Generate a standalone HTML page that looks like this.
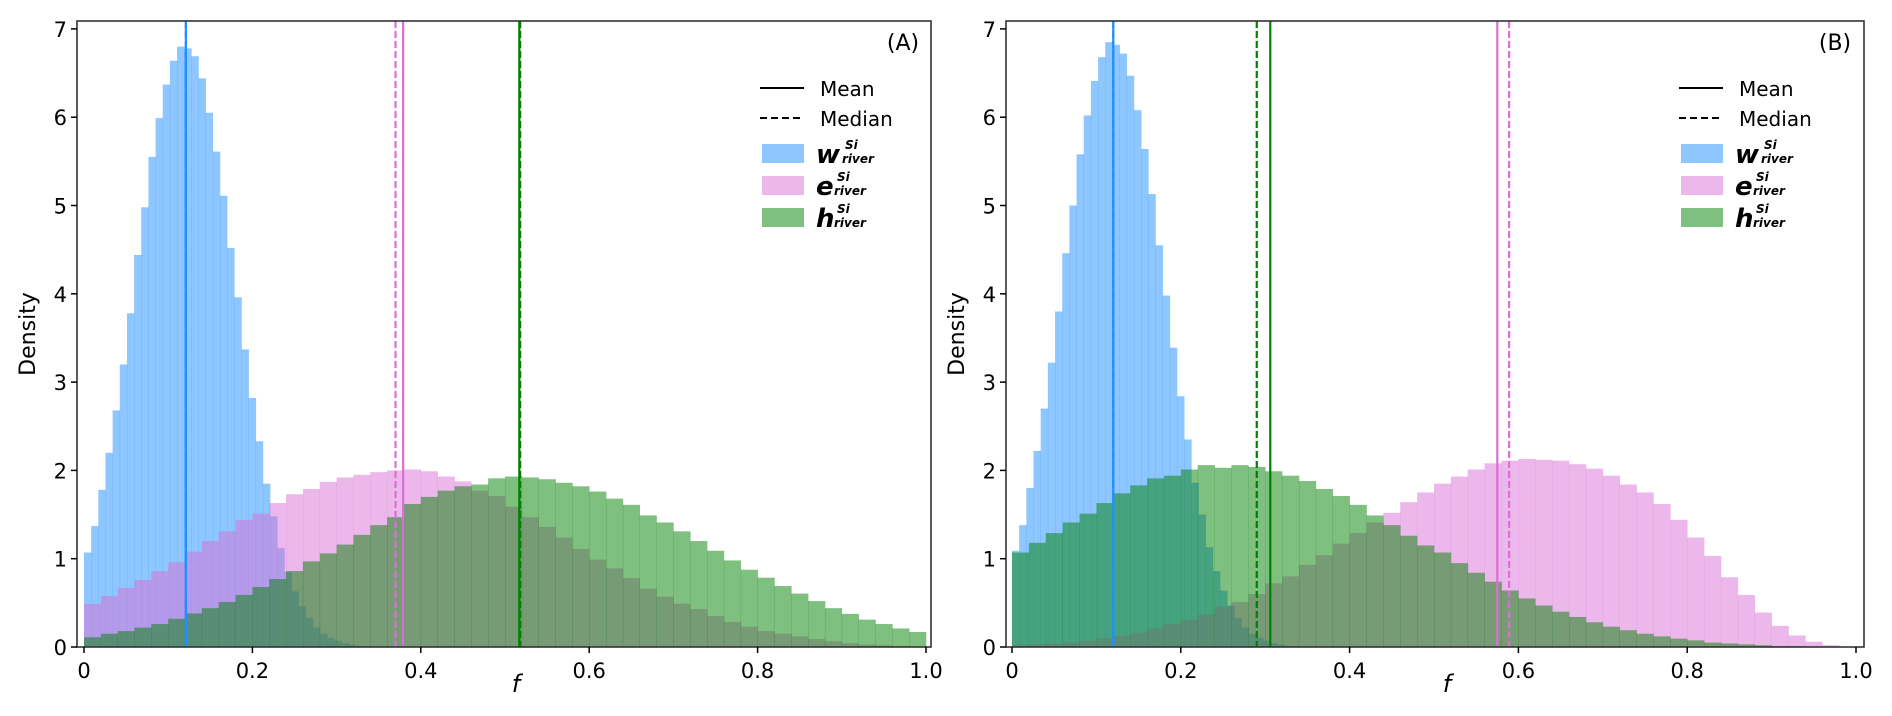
<!DOCTYPE html>
<html><head><meta charset="utf-8"><style>
html,body{margin:0;padding:0;background:#fff;}
svg{display:block;font-family:"DejaVu Sans","Liberation Sans",sans-serif;}
</style></head><body>
<svg id="fig" width="1892" height="716" viewBox="0 0 1892 716"></svg>
<script>
const xTicks = [0, 0.2, 0.4, 0.6, 0.8, 1.0];
const xTickLabels = ["0", "0.2", "0.4", "0.6", "0.8", "1.0"];
const yTicks = [0, 1, 2, 3, 4, 5, 6, 7];
const binWide = 0.02;
const binBlue = 0.0085;
const blueA = [1.07,1.37,1.78,2.20,2.68,3.20,3.78,4.44,4.98,5.55,5.99,6.37,6.64,6.80,6.78,6.69,6.44,6.05,5.61,5.11,4.52,3.96,3.37,2.82,2.33,1.85,1.48,1.12,0.85,0.63,0.46,0.33,0.22,0.15,0.105,0.07,0.045,0.026,0.015,0.01,0.005];
const pinkA = [0.49,0.58,0.67,0.76,0.86,0.96,1.08,1.20,1.31,1.44,1.51,1.63,1.73,1.79,1.87,1.92,1.95,1.98,2.00,2.01,1.99,1.93,1.875,1.77,1.71,1.59,1.47,1.36,1.24,1.11,0.99,0.89,0.78,0.66,0.57,0.49,0.43,0.35,0.285,0.23,0.18,0.15,0.12,0.09,0.066,0.043,0.027,0.02,0.01,0.005];
const greenA = [0.11,0.15,0.18,0.22,0.26,0.32,0.38,0.44,0.51,0.59,0.68,0.77,0.86,0.97,1.06,1.16,1.27,1.38,1.47,1.62,1.70,1.77,1.82,1.84,1.91,1.93,1.92,1.90,1.86,1.82,1.76,1.68,1.61,1.49,1.41,1.31,1.20,1.09,0.98,0.875,0.785,0.69,0.605,0.52,0.44,0.375,0.31,0.26,0.21,0.17];
const blueB = [1.09,1.38,1.80,2.22,2.70,3.22,3.80,4.46,5.00,5.58,6.02,6.41,6.68,6.85,6.82,6.72,6.47,6.08,5.64,5.13,4.55,3.98,3.39,2.84,2.35,1.86,1.50,1.13,0.86,0.64,0.47,0.33,0.22,0.15,0.105,0.07,0.045,0.026,0.015,0.01,0.005];
const pinkB = [0.02,0.03,0.04,0.05,0.07,0.10,0.125,0.16,0.21,0.26,0.31,0.37,0.46,0.51,0.60,0.72,0.80,0.93,1.04,1.17,1.29,1.41,1.52,1.64,1.75,1.85,1.93,2.01,2.08,2.11,2.13,2.12,2.11,2.07,2.02,1.94,1.84,1.75,1.62,1.44,1.24,1.03,0.79,0.59,0.39,0.24,0.13,0.06,0.02,0.005];
const greenB = [1.07,1.18,1.29,1.41,1.51,1.63,1.74,1.83,1.91,1.94,2.01,2.06,2.03,2.06,2.04,1.99,1.94,1.88,1.79,1.71,1.61,1.49,1.38,1.26,1.15,1.07,0.95,0.84,0.74,0.64,0.55,0.47,0.40,0.34,0.28,0.23,0.19,0.15,0.12,0.095,0.075,0.05,0.04,0.03,0.02,0.01,0.01,0.005,0,0];
const statsA = [0.121, 0.121, 0.379, 0.370, 0.517, 0.518];
const statsB = [0.120, 0.120, 0.575, 0.589, 0.306, 0.290];

const NS = "http://www.w3.org/2000/svg";
const fig = document.getElementById('fig');
function mk(tag, attrs, parent){ const e=document.createElementNS(NS,tag); for(const k in attrs) e.setAttribute(k,attrs[k]); (parent||fig).appendChild(e); return e; }

const panels = [
  {id:'a', label:'(A)', left:77, right:931, top:21, bottom:647, x0:84, x1:926, blue:blueA, pink:pinkA, green:greenA, stats:statsA, legX:760, labelX:903},
  {id:'b', label:'(B)', left:1006, right:1864, top:21, bottom:647, x0:1012, x1:1856, blue:blueB, pink:pinkB, green:greenB, stats:statsB, legX:1679, labelX:1835}
];
const yUnit = 88.3;
const colBlue='#1E90FF', colPink='#DA70D6', colGreen='#008000';

panels.forEach(p=>{
  const g = mk('g',{});
  
  
  const xs = v => p.x0 + v*(p.x1-p.x0);
  const ys = v => p.bottom - v*yUnit;
  function hist(arr, w, color, name){
    const hg = mk('g',{}, g);
    
    
    arr.forEach((v,i)=>{
      if(v<=0) return;
      const xa=xs(i*w), xb=xs((i+1)*w);
      const r = mk('rect',{x:xa,y:ys(v),width:xb-xa+0.3,height:p.bottom-ys(v),fill:color,'fill-opacity':0.5}, hg);
      
      
    });
  }
  hist(p.blue, binBlue, colBlue, 'hist-w-'+p.id);
  hist(p.pink, binWide, colPink, 'hist-e-'+p.id);
  hist(p.green, binWide, colGreen, 'hist-h-'+p.id);
  const lineCols=[colBlue,colBlue,colPink,colPink,colGreen,colGreen];
  p.stats.forEach((v,i)=>{
    const l = mk('line',{x1:xs(v),x2:xs(v),y1:p.top,y2:p.bottom,stroke:lineCols[i],'stroke-width':2.2}, g);
    if(i%2===1) l.setAttribute('stroke-dasharray','7,3');
    
    
  });
  const fr = mk('rect',{x:p.left,y:p.top,width:p.right-p.left,height:p.bottom-p.top,fill:'none',stroke:'#333','stroke-width':1.6}, g);
  
  
  xTicks.forEach((v,i)=>{
    mk('line',{x1:xs(v),x2:xs(v),y1:p.bottom,y2:p.bottom+6,stroke:'#000','stroke-width':1.5}, g);
    const t = mk('text',{x:xs(v),y:p.bottom+31,'text-anchor':'middle','font-size':21,fill:'#000'}, g);
    t.textContent = xTickLabels[i];
    
    
  });
  yTicks.forEach(v=>{
    mk('line',{x1:p.left-6,x2:p.left,y1:ys(v),y2:ys(v),stroke:'#000','stroke-width':1.5}, g);
    const t = mk('text',{x:p.left-10,y:ys(v)+8,'text-anchor':'end','font-size':21,fill:'#000'}, g);
    t.textContent = String(v);
    
    
  });
  const yl = mk('text',{x:0,y:0,transform:`translate(${p.left-42},${(p.top+p.bottom)/2}) rotate(-90)`,'text-anchor':'middle','font-size':22}, g);
  yl.textContent='Density';
  
  
  const xl = mk('text',{x:(p.left+p.right)/2+12,y:692,'text-anchor':'middle','font-size':24,'font-style':'italic'}, g);
  xl.textContent='f';
  
  
  const pl = mk('text',{x:p.labelX,y:50,'text-anchor':'middle','font-size':22}, g);
  pl.textContent=p.label;
  
  
  const lg = mk('g',{}, g);
  
  
  const L = p.legX;
  mk('line',{x1:L,x2:L+44,y1:88,y2:88,stroke:'#000','stroke-width':2}, lg);
  const tm = mk('text',{x:L+60,y:96,'font-size':20}, lg); tm.textContent='Mean';
  
  
  mk('line',{x1:L,x2:L+44,y1:118,y2:118,stroke:'#000','stroke-width':2,'stroke-dasharray':'7,4'}, lg);
  const td = mk('text',{x:L+60,y:126,'font-size':20}, lg); td.textContent='Median';
  
  
  const ents=[['w',colBlue,144],['e',colPink,176],['h',colGreen,208]];
  ents.forEach(en=>{
    const r = mk('rect',{x:L+2,y:en[2],width:42,height:19,fill:en[1],'fill-opacity':0.5}, lg);
    
    
    const t1 = mk('text',{x:L+56,y:en[2]+19,'font-size':26,'font-weight':'bold','font-style':'italic'}, lg);
    t1.textContent=en[0];
    
    
    const sx = L+56+(en[0]==='w'?26:18);
    const t2 = mk('text',{x:sx+3,y:en[2]+5,'font-size':12,'font-weight':'bold','font-style':'italic'}, lg);
    t2.textContent='Si';
    const t3 = mk('text',{x:sx,y:en[2]+19,'font-size':12,'font-weight':'bold','font-style':'italic'}, lg);
    t3.textContent='river';
  });
});
</script>
</body></html>
